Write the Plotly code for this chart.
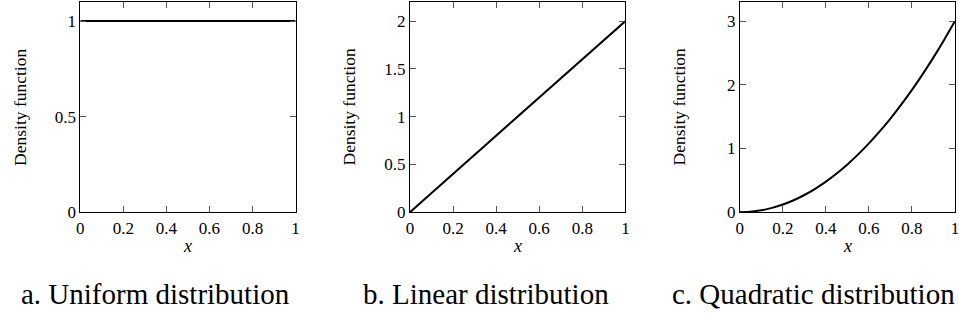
import plotly.graph_objects as go

W, H = 959, 322

# Data
uniform_x = [0, 1]
uniform_y = [1, 1]
linear_x = [0, 1]
linear_y = [0, 2]
quad_x = [0, 0.05, 0.1, 0.15, 0.2, 0.25, 0.3, 0.35, 0.4, 0.45, 0.5,
          0.55, 0.6, 0.65, 0.7, 0.75, 0.8, 0.85, 0.9, 0.95, 1.0]
quad_y = [0, 0.0075, 0.03, 0.0675, 0.12, 0.1875, 0.27, 0.3675, 0.48, 0.6075, 0.75,
          0.9075, 1.08, 1.2675, 1.47, 1.6875, 1.92, 2.1675, 2.43, 2.7075, 3.0]

x_ticks = [0, 0.2, 0.4, 0.6, 0.8, 1]
x_ticklabels = ["0", "0.2", "0.4", "0.6", "0.8", "1"]
y_ticks_a = [0, 0.5, 1]
y_ticklabels_a = ["0", "0.5", "1"]
y_ticks_b = [0, 0.5, 1, 1.5, 2]
y_ticklabels_b = ["0", "0.5", "1", "1.5", "2"]
y_ticks_c = [0, 1, 2, 3]
y_ticklabels_c = ["0", "1", "2", "3"]
y_ranges = [[0, 1.1], [0, 2.2], [0, 3.3]]
captions = ["a. Uniform distribution", "b. Linear distribution", "c. Quadratic distribution"]
ylabel = "Density function"
xlabel = "x"

FONT = "Liberation Serif"

# pixel layout (page pixels)
plot_left = [77, 409.3, 742]
plot_right = [294, 626.7, 959.5]
plot_top, plot_bottom = 2, 219
cap_center = [153, 486, 816]

fig = go.Figure()
series = [(uniform_x, uniform_y), (linear_x, linear_y), (quad_x, quad_y)]
yt = [(y_ticks_a, y_ticklabels_a), (y_ticks_b, y_ticklabels_b), (y_ticks_c, y_ticklabels_c)]

for i, (xs, ys) in enumerate(series):
    sfx = "" if i == 0 else str(i + 1)
    fig.add_trace(go.Scatter(x=xs, y=ys, mode="lines",
                             line=dict(color="black", width=2, shape="spline" if i == 2 else "linear"),
                             xaxis="x" + sfx, yaxis="y" + sfx, showlegend=False,
                             hoverinfo="skip"))
    x0 = plot_left[i] / W
    x1 = min(plot_right[i] / W, 1.0)
    axis_common = dict(showline=True, linecolor="black", linewidth=1, mirror="allticks",
                       ticks="inside", ticklen=6, tickcolor="#555", tickwidth=1,
                       showgrid=False, zeroline=False, ticklabeloverflow="allow",
                       tickfont=dict(family=FONT, size=17, color="black"))
    fig.update_layout(**{
        "xaxis" + sfx: dict(domain=[x0, x1], range=[0, 1], anchor="y" + sfx,
                            tickvals=x_ticks, ticktext=x_ticklabels, **axis_common),
        "yaxis" + sfx: dict(domain=[(H - plot_bottom) / H, (H - plot_top) / H],
                            range=y_ranges[i], anchor="x" + sfx,
                            tickvals=yt[i][0], ticktext=yt[i][1], **axis_common),
    })
    fig.add_annotation(text=ylabel, xref="paper", yref="paper",
                       x=(plot_left[i] - 61) / W, y=(H - 110.5) / H, textangle=-90,
                       showarrow=False, font=dict(family=FONT, size=17.5, color="black"),
                       xanchor="center", yanchor="middle")
    fig.add_annotation(text="<i>" + xlabel + "</i>", xref="paper", yref="paper",
                       x=(plot_left[i] + plot_right[i]) / 2 / W, y=(H - 254) / H,
                       showarrow=False, font=dict(family=FONT, size=18, color="black"),
                       xanchor="center", yanchor="middle")
    fig.add_annotation(text=captions[i], xref="paper", yref="paper",
                       x=cap_center[i] / W, y=(H - 303) / H,
                       showarrow=False, font=dict(family=FONT, size=29, color="black"),
                       xanchor="center", yanchor="middle")

fig.update_layout(width=W, height=H, autosize=False,
                  margin=dict(l=0, r=0, t=0, b=0, pad=0),
                  paper_bgcolor="white", plot_bgcolor="white",
                  font=dict(family=FONT, color="black"))

fig.write_html("out.html",
               config={"displayModeBar": False, "responsive": False},
               post_script="document.body.style.margin='0px';document.body.style.overflow='hidden';")
